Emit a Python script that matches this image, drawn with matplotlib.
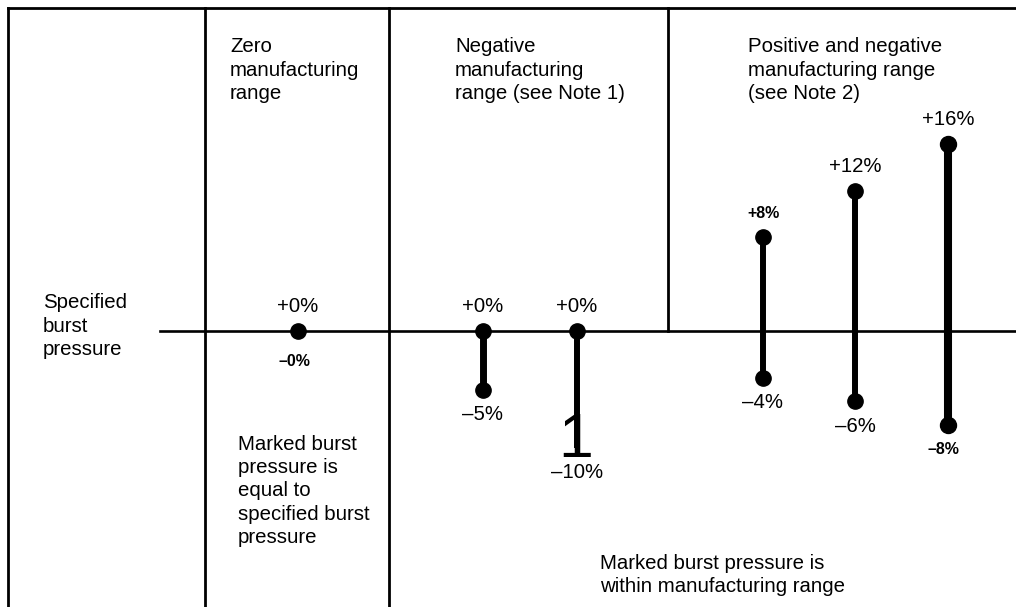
import matplotlib
matplotlib.use("Agg")
import matplotlib.pyplot as plt

plt.rcParams["font.family"] = ["Liberation Sans", "DejaVu Sans"]

# manufacturing range of each example, % of specified burst pressure
upper = [0, 0, 0, 8, 12, 16]
lower = [0, -5, -10, -4, -6, -8]
upper_labels = ["+0%", "+0%", "+0%", "+8%", "+12%", "+16%"]
lower_labels = ["\u20130%", "\u20135%", "\u201310%", "\u20134%", "\u20136%", "\u20138%"]

# layout / style (pixels of the 1016x607 picture)
W, H = 1016, 607
Y0 = 331            # pixel row of 0 %
PX_PER_PCT = 11.7
stem_x = [298, 483, 577, 763, 855, 948]
stem_lw = [0, 5.0, 4.3, 4.3, 4.3, 5.8]
bold_upper = [False, False, False, True, False, False]
bold_lower = [True, False, False, False, False, True]
bottom_dot = [False, True, False, True, True, True]

fig = plt.figure(figsize=(W / 100, H / 100), dpi=100)

# frame axes in pixel coords
frame = fig.add_axes([0, 0, 1, 1])
frame.set_xlim(0, W)
frame.set_ylim(H, 0)
frame.axis("off")

# data axes: x in pixels, y in percent
ax = fig.add_axes([0, 0, 1, 1])
ax.set_xlim(0, W)
ax.set_ylim(-(H - Y0) / PX_PER_PCT, Y0 / PX_PER_PCT)
ax.axis("off")
ax.patch.set_visible(False)

lw_frame = 2.0
frame.plot([8, W], [8, 8], color="black", lw=lw_frame, solid_capstyle="projecting")
for x in (8, 205, 389):
    frame.plot([x, x], [8, H], color="black", lw=lw_frame)
frame.plot([668, 668], [8, Y0], color="black", lw=lw_frame)

# baseline = specified burst pressure (0 %)
ax.plot([160, W], [0, 0], color="black", lw=1.9)

txt = dict(fontsize=14.7, color="black", linespacing=1.29)
frame.text(43, 326, "Specified\nburst\npressure", ha="left", va="center", **txt)
frame.text(230, 70, "Zero\nmanufacturing\nrange", ha="left", va="center", **txt)
frame.text(455, 70, "Negative\nmanufacturing\nrange (see Note 1)", ha="left", va="center", **txt)
frame.text(748, 70, "Positive and negative\nmanufacturing range\n(see Note 2)",
           ha="left", va="center", **txt)
frame.text(238, 491, "Marked burst\npressure is\nequal to\nspecified burst\npressure",
           ha="left", va="center", **txt)
frame.text(600, 575, "Marked burst pressure is\nwithin manufacturing range",
           ha="left", va="center", **txt)

for i, x in enumerate(stem_x):
    hi, lo = upper[i], lower[i]
    if stem_lw[i] > 0:
        ax.plot([x, x], [lo, hi], color="black", lw=stem_lw[i], solid_capstyle="butt")
    ms = 11.5 if i == 5 else 11
    ax.plot([x], [hi], "o", color="black", ms=ms)
    if bottom_dot[i]:
        ax.plot([x], [lo], "o", color="black", ms=ms)

    ax.annotate(upper_labels[i], xy=(x, hi), xytext=(0, 24), textcoords="offset pixels",
                ha="center", va="center",
                fontsize=11.5 if bold_upper[i] else 14.7,
                fontweight="bold" if bold_upper[i] else "normal")
    dy = -31 if i == 0 else -25
    ax.annotate(lower_labels[i], xy=(x, lo), xytext=(-5 if i == 5 else -4 if i == 0 else 0, dy),
                textcoords="offset pixels", ha="center", va="center",
                fontsize=11.5 if bold_lower[i] else 14.7,
                fontweight="bold" if bold_lower[i] else "normal")

# the -10 % range ends in a large "1" glyph
ax.annotate("1", xy=(stem_x[2], lower[2]), xytext=(-1, -9), textcoords="offset pixels",
            ha="center", va="baseline", fontsize=45)

fig.savefig("out.png", dpi=100)
